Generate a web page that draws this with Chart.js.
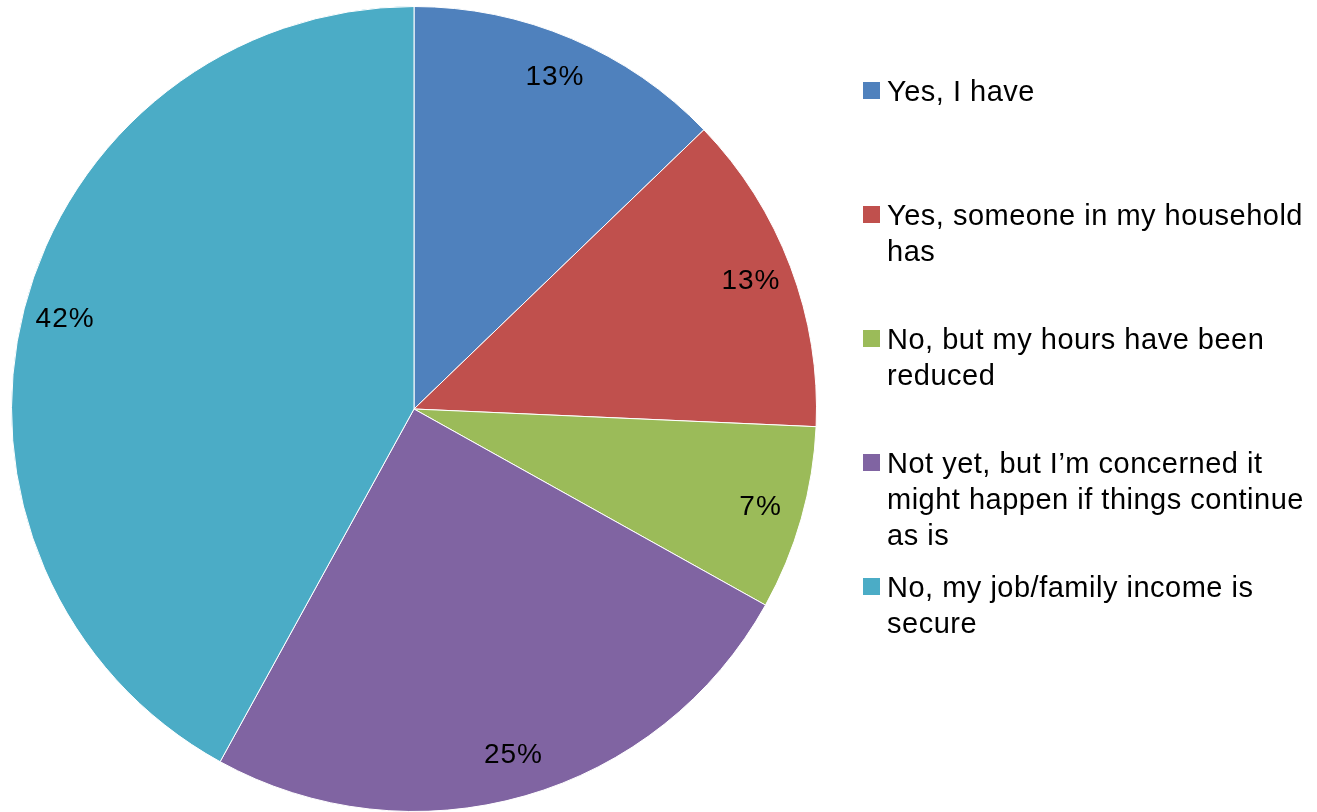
<!DOCTYPE html>
<html>
<head>
<meta charset="utf-8">
<script src="https://cdn.jsdelivr.net/npm/chart.js@4"></script>
<style>
  html, body { margin: 0; padding: 0; background: #fff; }
  #wrap { position: relative; width: 1317px; height: 812px; }
  #legend { position: absolute; left: 863px; top: 0; font-family: "Liberation Sans", Arial, sans-serif; font-size: 29px; letter-spacing: 0.5px; color: #000; }
  .item { position: absolute; left: 0; white-space: nowrap; line-height: 36px; }
  .box { position: absolute; left: 0; top: 9px; width: 17px; height: 17px; }
  .txt { position: absolute; left: 24px; top: 0; }
</style>
</head>
<body>
<div id="wrap">
  <canvas id="pie" width="1317" height="812"></canvas>
  <div id="legend"></div>
</div>
<script>
// answers to the question, in slice order
const labels = [
  ["Yes, I have"],
  ["Yes, someone in my household", "has"],
  ["No, but my hours have been", "reduced"],
  ["Not yet, but I\u2019m concerned it", "might happen if things continue", "as is"],
  ["No, my job/family income is", "secure"]
];
const values = [12.8, 12.9, 7.4, 24.9, 42.0];
const shown = ["13%", "13%", "7%", "25%", "42%"];
const colors = ["#4F81BD", "#C0504D", "#9BBB59", "#8064A2", "#4BACC6"];
const legendTops = [73, 197, 321, 445, 569];

// percent labels inside each slice
const sliceLabels = {
  id: "sliceLabels",
  afterDatasetsDraw(chart) {
    const ctx = chart.ctx;
    const meta = chart.getDatasetMeta(0);
    ctx.save();
    ctx.font = '28px "Liberation Sans", Arial, sans-serif';
    ctx.letterSpacing = "1px";
    ctx.fillStyle = "#000";
    ctx.textAlign = "center";
    ctx.textBaseline = "middle";
    meta.data.forEach((arc, i) => {
      const p = arc.getProps(["x", "y", "startAngle", "endAngle", "outerRadius"], true);
      const mid = (p.startAngle + p.endAngle) / 2;
      const r = p.outerRadius * 0.895;
      ctx.fillText(shown[i], p.x + Math.cos(mid) * r, p.y + Math.sin(mid) * r);
    });
    ctx.restore();
  }
};

new Chart(document.getElementById("pie"), {
  type: "pie",
  data: {
    labels: labels.map((l) => l.join(" ")),
    datasets: [{
      data: values,
      backgroundColor: colors,
      borderColor: "#ffffff",
      borderWidth: 1
    }]
  },
  options: {
    responsive: false,
    animation: false,
    layout: { padding: { left: 11, top: 6, right: 500, bottom: 0 } },
    plugins: {
      legend: { display: false },
      tooltip: { enabled: false }
    }
  },
  plugins: [sliceLabels]
});

// legend on the right, built from the same arrays
const legend = document.getElementById("legend");
labels.forEach((lines, i) => {
  const item = document.createElement("div");
  item.className = "item";
  item.style.top = legendTops[i] + "px";
  const box = document.createElement("div");
  box.className = "box";
  box.style.background = colors[i];
  const txt = document.createElement("div");
  txt.className = "txt";
  txt.innerHTML = lines.join("<br>");
  item.appendChild(box);
  item.appendChild(txt);
  legend.appendChild(item);
});
</script>
</body>
</html>
